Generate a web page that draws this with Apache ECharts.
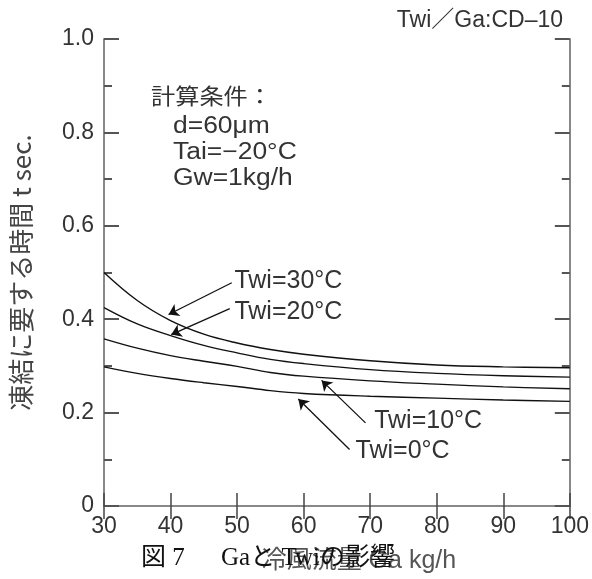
<!DOCTYPE html>
<html>
<head>
<meta charset="utf-8">
<script src="https://cdn.jsdelivr.net/npm/echarts@6/dist/echarts.min.js"></script>
<style>
  html, body { margin: 0; padding: 0; background: #fff; }
  #main { width: 592px; height: 579px; }
</style>
</head>
<body>
<div id="main"></div>
<script>
// 冷風流量 Ga (kg/h)
var gaValues = [30, 35, 40, 45, 50, 55, 60, 70, 80, 90, 100];
// 凍結に要する時間 t (sec.)
var twi30 = [0.500, 0.440, 0.397, 0.368, 0.349, 0.335, 0.325, 0.311, 0.302, 0.298, 0.296];
var twi20 = [0.425, 0.390, 0.365, 0.344, 0.328, 0.314, 0.305, 0.292, 0.284, 0.279, 0.276];
var twi10 = [0.358, 0.338, 0.322, 0.310, 0.299, 0.286, 0.278, 0.268, 0.261, 0.255, 0.251];
var twi0  = [0.298, 0.284, 0.273, 0.264, 0.256, 0.247, 0.241, 0.235, 0.231, 0.227, 0.224];
var curveNames = ['Twi=30°C', 'Twi=20°C', 'Twi=10°C', 'Twi=0°C'];
// arrows: [from, to] in data coords, label anchor
var arrowFrom = [[49.2, 0.478], [48.9, 0.4225], [69.3, 0.178], [66.9, 0.121]];
var arrowTo   = [[39.7, 0.410], [40.1, 0.367], [62.7, 0.269], [59.2, 0.229]];
var labelAt   = [[49.6, 0.481], [49.6, 0.416], [70.6, 0.181], [67.8, 0.117]];
var notes = ['計算条件：', 'd=60μm', 'Tai=−20°C', 'Gw=1kg/h'];

var chart = echarts.init(document.getElementById('main'));
var textColor = '#333';
var axisColor = '#888';
var fontLatin = 'Liberation Sans, Arial, Noto Sans CJK JP, sans-serif';

function pairs(ys) {
    return gaValues.map(function (x, i) { return [x, ys[i]]; });
}

var arrowData = arrowFrom.map(function (f, i) {
    return [{ coord: f }, { coord: arrowTo[i] }];
});
var labelData = labelAt.map(function (p, i) {
    return { coord: p, value: curveNames[i] };
});

var lineStyle = { color: '#111', width: 1.4 };

var option = {
    animation: false,
    backgroundColor: '#fff',
    grid: { left: 103, right: 19, top: 39, bottom: 73 },
    title: {
        text: 'Twi／Ga:CD–10',
        right: 24,
        top: 4,
        textStyle: { fontFamily: fontLatin, fontSize: 23, fontWeight: 'normal', color: textColor }
    },
    xAxis: [
        {
            type: 'value', min: 30, max: 100, interval: 10,
            name: '冷風流量 Ga kg/h',
            nameLocation: 'middle',
            nameGap: 43,
            nameTextStyle: { fontFamily: fontLatin, fontSize: 25, color: '#555', padding: [0, 0, 0, 44] },
            axisLine: { lineStyle: { color: axisColor, width: 2 } },
            axisTick: { inside: true, length: 13, lineStyle: { color: '#444', width: 1.5 } },
            axisLabel: { fontFamily: fontLatin, fontSize: 23, color: textColor, margin: 9 },
            splitLine: { show: false }
        },
        {
            type: 'value', min: 30, max: 100, interval: 10, position: 'top',
            axisLine: { show: true, lineStyle: { color: axisColor, width: 2 } },
            axisTick: { inside: true, length: 13, lineStyle: { color: '#444', width: 1.5 } },
            axisLabel: { show: false },
            splitLine: { show: false }
        }
    ],
    yAxis: [
        {
            type: 'value', min: 0, max: 1.0, interval: 0.2,
            name: '凍結に要する時間 t sec.',
            nameLocation: 'middle',
            nameRotate: 90,
            nameGap: 70,
            nameTextStyle: { fontFamily: 'Noto Sans CJK JP, sans-serif', fontSize: 26, color: '#444' },
            axisLine: { show: true, lineStyle: { color: axisColor, width: 2 } },
            axisTick: { inside: true, length: 15, lineStyle: { color: '#555', width: 2 } },
            minorTick: { show: true, splitNumber: 2, length: 8, lineStyle: { color: '#555', width: 2 } },
            axisLabel: {
                fontFamily: fontLatin, fontSize: 23, color: textColor, margin: 10,
                padding: [8, 0, 0, 0],
                formatter: function (v) { return v === 0 ? '0' : v.toFixed(1); }
            },
            splitLine: { show: false },
            minorSplitLine: { show: false }
        },
        {
            type: 'value', min: 0, max: 1.0, interval: 0.2, position: 'right',
            axisLine: { show: true, lineStyle: { color: axisColor, width: 2 } },
            axisTick: { inside: true, length: 15, lineStyle: { color: '#555', width: 2 } },
            minorTick: { show: true, splitNumber: 2, length: 8, lineStyle: { color: '#555', width: 2 } },
            axisLabel: { show: false },
            splitLine: { show: false }
        }
    ],
    series: [
        {
            name: curveNames[0], type: 'line', smooth: 0.4, showSymbol: false,
            data: pairs(twi30), lineStyle: lineStyle,
            markLine: {
                silent: true,
                symbol: ['none', 'arrow'],
                symbolSize: 10,
                lineStyle: { color: '#111', width: 1.3, type: 'solid' },
                label: { show: false },
                data: arrowData
            },
            markPoint: {
                silent: true,
                symbolSize: 0,
                label: {
                    show: true, position: 'right', distance: 0,
                    fontFamily: fontLatin, fontSize: 25, color: textColor,
                    formatter: function (p) { return p.value; }
                },
                data: labelData
            }
        },
        { name: curveNames[1], type: 'line', smooth: 0.4, showSymbol: false, data: pairs(twi20), lineStyle: lineStyle },
        { name: curveNames[2], type: 'line', smooth: 0.4, showSymbol: false, data: pairs(twi10), lineStyle: lineStyle },
        { name: curveNames[3], type: 'line', smooth: 0.4, showSymbol: false, data: pairs(twi0), lineStyle: lineStyle }
    ],
    graphic: [
        {
            type: 'text', x: 151, y: 85, scaleX: 1.1,
            style: { text: notes[0], font: '22px Noto Sans CJK JP', fill: textColor }
        },
        {
            type: 'text', x: 173, y: 114, scaleX: 1.15,
            style: {
                text: notes.slice(1).join('\n'),
                font: '23px Liberation Sans', lineHeight: 26, fill: textColor
            }
        },
        {
            type: 'text', x: 141, y: 546, z: 100,
            style: { text: '図 7', font: '25px Liberation Serif, Noto Sans CJK JP', fill: '#111' }
        },
        {
            type: 'text', x: 221, y: 546, z: 100,
            style: { text: 'Gaと Twiの影響', font: '25px Liberation Serif, Noto Sans CJK JP', fill: '#111' }
        }
    ]
};

chart.setOption(option);
</script>
</body>
</html>
